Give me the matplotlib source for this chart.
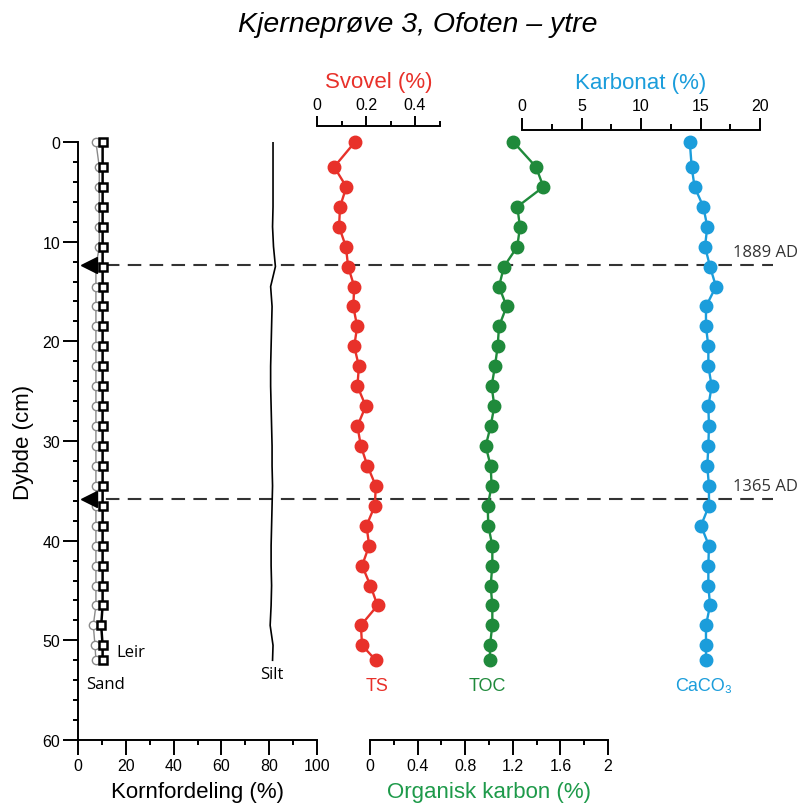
#!/usr/bin/env python3
"""Kjerneprøve 3, Ofoten – kornfordeling, svovel, organisk karbon og karbonat mot dyp."""

import matplotlib
matplotlib.use("Agg")
import matplotlib.pyplot as plt
from matplotlib.ticker import MultipleLocator, FuncFormatter
from matplotlib.transforms import blended_transform_factory

plt.rcParams["font.family"] = ["Liberation Sans", "DejaVu Sans"]

# prøvedyp (cm)
dybde = [0, 2.5, 4.5, 6.5, 8.5, 10.5, 12.5, 14.5, 16.5, 18.5, 20.5, 22.5, 24.5,
         26.5, 28.5, 30.5, 32.5, 34.5, 36.5, 38.5, 40.5, 42.5, 44.5, 46.5, 48.5,
         50.5, 52]

# kornfordeling, kumulativ (%)
sand = [7.5, 8.9, 8.9, 8.9, 8.9, 8.9, 7.5, 7.5, 7.5, 7.5, 7.5, 7.5, 7.5, 7.5,
        7.5, 7.5, 7.5, 7.5, 7.5, 7.5, 7.5, 7.5, 7.5, 7.5, 6.4, 7.1, 7.5]
leir = [10.3, 10.3, 10.3, 10.3, 10.3, 10.3, 10.3, 10.3, 10.3, 10.3, 10.3, 10.3,
        10.3, 10.3, 10.3, 10.3, 10.3, 10.3, 10.3, 10.3, 10.3, 10.3, 10.3, 10.3,
        9.7, 10.3, 10.3]
silt = [81.6, 81.6, 81.6, 81.6, 81.4, 81.8, 82.6, 80.6, 81.2, 81.0, 80.8, 80.6,
        80.6, 80.8, 81.0, 81.2, 81.2, 81.4, 81.2, 81.0, 80.8, 80.8, 81.0, 80.8,
        80.4, 81.6, 81.4]

# geokjemi
ts = [0.155, 0.07, 0.12, 0.094, 0.09, 0.118, 0.127, 0.152, 0.148, 0.164, 0.152,
      0.171, 0.165, 0.199, 0.165, 0.179, 0.206, 0.24, 0.236, 0.202, 0.213, 0.184,
      0.218, 0.247, 0.179, 0.184, 0.24]
toc = [1.205, 1.395, 1.457, 1.238, 1.26, 1.238, 1.126, 1.084, 1.148, 1.084,
       1.073, 1.05, 1.022, 1.045, 1.014, 0.972, 1.014, 1.022, 0.989, 0.994,
       1.028, 1.028, 1.014, 1.028, 1.028, 1.008, 1.008]
caco3 = [14.1, 14.26, 14.5, 15.24, 15.57, 15.38, 15.8, 16.3, 15.46, 15.46, 15.66,
         15.66, 15.94, 15.66, 15.71, 15.66, 15.57, 15.71, 15.71, 15.04, 15.71,
         15.66, 15.66, 15.8, 15.46, 15.46, 15.46]

# daterte nivåer
dato_dyp = [12.3, 35.8]
dato_tekst = ["1889 AD", "1365 AD"]

RED = "#e8312a"
GREEN = "#1f8a3b"
GREEN_TXT = "#1e9a4a"
BLUE = "#1b9ddb"

W, H = 805, 812


def rect(x0, x1, y0=143, y1=741):
    return [x0 / W, 1 - y1 / H, (x1 - x0) / W, (y1 - y0) / H]


def fmt(v, _):
    return f"{v:g}"


fig = plt.figure(figsize=(W / 100, H / 100), dpi=100)

ax_k = fig.add_axes(rect(78, 317))
ax_s = fig.add_axes(rect(317, 439.5))
ax_c = fig.add_axes(rect(370, 608))
ax_ca = fig.add_axes(rect(522, 760))

for ax in (ax_k, ax_s, ax_c, ax_ca):
    ax.set_facecolor("none")
    ax.set_ylim(60, 0)
    for sp in ax.spines.values():
        sp.set_linewidth(1.4)

# --- kornfordeling ---
ax_k.spines["top"].set_visible(False)
ax_k.spines["right"].set_visible(False)
ax_k.set_xlim(0, 100)
ax_k.xaxis.set_major_locator(MultipleLocator(20))
ax_k.xaxis.set_minor_locator(MultipleLocator(10))
ax_k.yaxis.set_major_locator(MultipleLocator(10))
ax_k.yaxis.set_minor_locator(MultipleLocator(2))
ax_k.tick_params(which="major", direction="out", length=10.8, width=1.4, labelsize=11.5, pad=2)
ax_k.tick_params(which="minor", direction="out", length=3.6, width=1.4)
ax_k.set_xlabel("Kornfordeling (%)", fontsize=16, labelpad=6)
ax_k.set_ylabel("Dybde (cm)", fontsize=16, labelpad=6)

ax_k.plot(silt, dybde, color="black", lw=1.2)
ax_k.plot(sand, dybde, color="#8a8a8a", lw=1.0, marker="o", ms=6,
          mfc="white", mec="#8a8a8a", mew=1.0, clip_on=False, zorder=3)
ax_k.plot(leir, dybde, color="black", lw=1.8, marker="s", ms=6,
          mfc="white", mec="black", mew=1.8, clip_on=False, zorder=4)
ax_k.text(11.3, 54.4, "Sand", family="Open Sans", fontsize=12, ha="center", va="center")
ax_k.text(16.0, 51.2, "Leir", family="Open Sans", fontsize=12, ha="left", va="center")
ax_k.text(81.2, 53.4, "Silt", family="Open Sans", fontsize=12, ha="center", va="center")

# --- svovel ---
for sp in ("left", "right", "bottom"):
    ax_s.spines[sp].set_visible(False)
ax_s.spines["top"].set_position(("outward", 11.5))
ax_s.set_xlim(0, 0.5)
ax_s.xaxis.tick_top()
ax_s.xaxis.set_major_locator(MultipleLocator(0.2))
ax_s.xaxis.set_minor_locator(MultipleLocator(0.1))
ax_s.xaxis.set_major_formatter(FuncFormatter(fmt))
ax_s.tick_params(axis="y", left=False, labelleft=False)
ax_s.tick_params(axis="x", which="major", direction="out", length=7, width=1.4, labelsize=11.5, pad=3)
ax_s.tick_params(axis="x", which="minor", direction="out", length=3.6, width=1.4)
ax_s.xaxis.set_label_position("top")
ax_s.set_xlabel("Svovel (%)", fontsize=16, color=RED, labelpad=7)
ax_s.plot(ts, dybde, color=RED, lw=1.7, marker="o", ms=9, clip_on=False, zorder=4)
ax_s.text(0.244, 54.5, "TS", fontsize=13, color=RED, ha="center", va="center")

# --- organisk karbon ---
for sp in ("left", "right", "top"):
    ax_c.spines[sp].set_visible(False)
ax_c.set_xlim(0, 2)
ax_c.xaxis.set_major_locator(MultipleLocator(0.4))
ax_c.xaxis.set_minor_locator(MultipleLocator(0.2))
ax_c.xaxis.set_major_formatter(FuncFormatter(fmt))
ax_c.tick_params(axis="y", left=False, labelleft=False)
ax_c.tick_params(axis="x", which="major", direction="out", length=10.8, width=1.4, labelsize=11.5, pad=2)
ax_c.tick_params(axis="x", which="minor", direction="out", length=3.6, width=1.4)
ax_c.set_xlabel("Organisk karbon (%)", fontsize=16, color=GREEN_TXT, labelpad=6)
ax_c.plot(toc, dybde, color=GREEN, lw=1.7, marker="o", ms=9, clip_on=False, zorder=4)
ax_c.text(0.99, 54.5, "TOC", fontsize=13, color=GREEN, ha="center", va="center")

# --- karbonat ---
for sp in ("left", "right", "bottom"):
    ax_ca.spines[sp].set_visible(False)
ax_ca.spines["top"].set_position(("outward", 9))
ax_ca.set_xlim(0, 20)
ax_ca.xaxis.tick_top()
ax_ca.xaxis.set_major_locator(MultipleLocator(5))
ax_ca.xaxis.set_minor_locator(MultipleLocator(2.5))
ax_ca.tick_params(axis="y", left=False, labelleft=False)
ax_ca.tick_params(axis="x", which="major", direction="out", length=9, width=1.4, labelsize=11.5, pad=3)
ax_ca.tick_params(axis="x", which="minor", direction="out", length=4.5, width=1.4)
ax_ca.xaxis.set_label_position("top")
ax_ca.set_xlabel("Karbonat (%)", fontsize=16, color=BLUE, labelpad=7)
ax_ca.plot(caco3, dybde, color=BLUE, lw=1.7, marker="o", ms=9, clip_on=False, zorder=4)
ax_ca.text(15.3, 54.5, "CaCO₃", fontsize=13, color=BLUE, ha="center", va="center")

# --- daterte nivåer, stiplet på tvers av alle panel ---
tr = blended_transform_factory(fig.transFigure, ax_k.transData)
for d, lab in zip(dato_dyp, dato_tekst):
    ax_k.plot([84 / W, 773 / W], [d, d], transform=tr, color="#333333", lw=1.5,
              dashes=(6.5, 4), clip_on=False, zorder=1)
    ax_k.plot(4.6, d, marker="<", ms=11, color="black", clip_on=False, zorder=6)
    ax_ca.text(17.7, d - 1.3, lab, family="Open Sans", fontsize=12,
               ha="left", va="center", color="#333333", clip_on=False)

fig.text(418 / W, 1 - 25 / H, "Kjerneprøve 3, Ofoten – ytre", fontsize=20.5,
         style="italic", ha="center", va="center")

fig.savefig("out.png", dpi=100, facecolor="white")
